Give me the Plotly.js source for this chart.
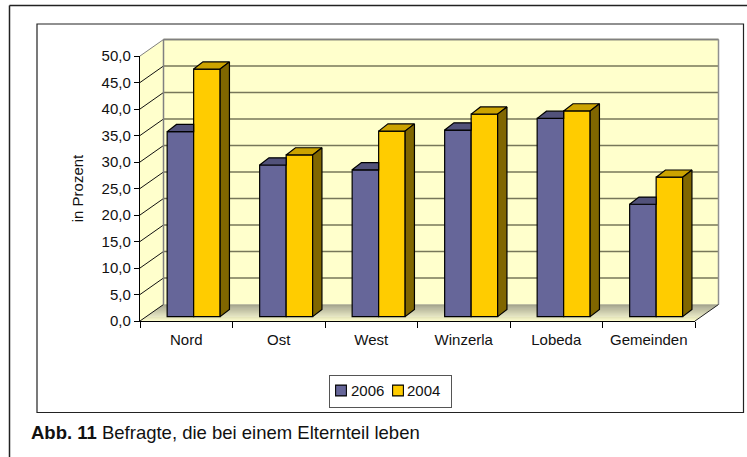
<!DOCTYPE html>
<html><head><meta charset="utf-8">
<script src="https://cdn.plot.ly/plotly-3.0.1.min.js"></script>
<style>html,body{margin:0;padding:0;background:#fff}</style></head>
<body><div id="chart" style="width:747px;height:457px"></div>
<script>
const categories = ["Nord","Ost","West","Winzerla","Lobeda","Gemeinden"];
const values2006 = [34.9,28.6,27.7,35.2,37.4,21.2];
const values2004 = [46.7,30.5,35.0,38.2,38.8,26.3];
const yTickVals = [0,5,10,15,20,25,30,35,40,45,50];
const yTickText = ["0,0","5,0","10,0","15,0","20,0","25,0","30,0","35,0","40,0","45,0","50,0"];

// plot area in page pixels
const L=140,R=695,T=56,B=321,W=747,H=457;
const pw=R-L, ph=B-T, catPx=pw/categories.length, unitPx=ph/50;
const DX=23.5, DY=16.5;             // wall depth
const barW=26.5/catPx, off=7.4/catPx, baseV=4.4/unitPx;
const bdx=9.3/catPx, bdy=7.2/unitPx; // bar depth
const px=x=>(x-L)/pw, py=y=>(B-y)/ph;
const pv=v=>v/50;
const poly=pts=>"M"+pts.map(p=>p[0]+","+p[1]).join("L")+"Z";
const shapes=[];
function paperLine(x0,y0,x1,y1,color,width){
  shapes.push({type:"line",xref:"paper",yref:"paper",layer:"below",x0:x0,y0:y0,x1:x1,y1:y1,line:{color:color,width:width}});
}
function area(pts,color){
  shapes.push({type:"path",xref:"paper",yref:"paper",layer:"below",path:poly(pts),fillcolor:color,line:{width:0}});
}
const ddx=DX/pw, ddy=DY/ph;
// outer frame and chart box
paperLine(px(9.5),py(5.5),px(747),py(5.5),"#222",1.5);
paperLine(px(9.5),py(5.5),px(9.5),py(457),"#222",1.5);
shapes.push({type:"rect",xref:"paper",yref:"paper",layer:"below",x0:px(37),x1:px(743.5),y0:py(24),y1:py(412.5),line:{color:"#222",width:1.2},fillcolor:"#fff"});
// walls
area([[ddx,ddy],[1+ddx,ddy],[1+ddx,1+ddy],[ddx,1+ddy]],"#FFFFCC");
area([[0,0],[ddx,ddy],[ddx,1+ddy],[0,1]],"#FFFFCC");
// floor gradient
const steps=17, c0=[128,128,100], c1=[255,255,208];
for(let i=0;i<steps;i++){
  const a=i/steps, b=(i+1)/steps;
  const t=Math.min(1,Math.pow(a,0.8));
  const col="rgb("+c0.map((c,k)=>Math.round(c+(c1[k]-c)*t)).join(",")+")";
  area([[ddx*(1-a),ddy*(1-a)],[1+ddx*(1-a),ddy*(1-a)],[1+ddx*(1-b),ddy*(1-b)],[ddx*(1-b),ddy*(1-b)]],col);
}
// gridlines
yTickVals.forEach(v=>{
  if(v>0) paperLine(ddx,pv(v)+ddy,1+ddx,pv(v)+ddy,"#77775A",1.3);
  paperLine(0,pv(v),ddx,pv(v)+ddy,v===50?"#808080":"#111",1);
});
paperLine(ddx,ddy,ddx,1+ddy,"#808080",1.5);
paperLine(ddx,1+ddy,1+ddx,1+ddy,"#808080",1.5);
paperLine(1+ddx,ddy,1+ddx,1+ddy,"#909090",1.5);
paperLine(1,0,1+ddx,ddy,"#222",1);

// depth faces, from the same values
function faces(vals,kind){
  const xs=[],ys=[];
  vals.forEach((v,i)=>{
    const top=baseV+v;
    const xl=i+0.5+off-barW, xm=i+0.5+off, xr=xm+barW;
    let pts;
    if(kind==="blueTop") pts=[[xl,top],[xm,top],[xm,top+bdy],[xl+bdx,top+bdy]];
    if(kind==="yellowTop") pts=[[xm,top],[xr,top],[xr+bdx,top+bdy],[xm+bdx,top+bdy]];
    if(kind==="yellowSide") pts=[[xr,baseV],[xr+bdx,baseV+bdy],[xr+bdx,top+bdy],[xr,top]];
    pts.concat([pts[0]]).forEach(p=>{xs.push(p[0]);ys.push(p[1]);});
    xs.push(null);ys.push(null);
  });
  return {x:xs,y:ys};
}
function faceTrace(vals,kind,color){
  const f=faces(vals,kind);
  return {type:"scatter",mode:"lines",x:f.x,y:f.y,xaxis:"x2",yaxis:"y",fill:"toself",fillcolor:color,
    line:{color:"#000",width:1.2},showlegend:false,hoverinfo:"skip",cliponaxis:false};
}
const barBase=categories.map(()=>baseV);
const data=[
 {type:"bar",name:"2006",x:categories,y:values2006,base:barBase,width:barW,offset:off-barW,
  marker:{color:"#666699",line:{color:"#000",width:1.2}}},
 {type:"bar",name:"2004",x:categories,y:values2004,base:barBase,width:barW,offset:off,
  marker:{color:"#FFCC00",line:{color:"#000",width:1.2}}},
 faceTrace(values2006,"blueTop","#52527A"),
 faceTrace(values2004,"yellowTop","#CCA300"),
 faceTrace(values2004,"yellowSide","#806600")
];
const font={family:"Liberation Sans, Arial, sans-serif",size:15,color:"#111"};
const layout={
 width:W,height:H,margin:{l:L,r:W-R,t:T,b:H-B,pad:0},autosize:false,
 paper_bgcolor:"#fff",plot_bgcolor:"rgba(0,0,0,0)",font:font,barmode:"overlay",
 xaxis:{type:"category",categoryorder:"array",categoryarray:categories,range:[-0.5,5.5],tickson:"boundaries",ticks:"outside",ticklen:6,tickcolor:"#000",tickwidth:1,
  ticklabelstandoff:5,showline:true,linecolor:"#000",linewidth:1.2,showgrid:false,zeroline:false,tickfont:font,fixedrange:true},
 xaxis2:{overlaying:"x",range:[0,6],visible:false,fixedrange:true},
 yaxis:{range:[0,50],tickvals:yTickVals,ticktext:yTickText,ticks:"outside",ticklen:5,tickcolor:"#000",tickwidth:1,
  showline:true,linecolor:"#000",linewidth:1.2,showgrid:false,zeroline:false,tickfont:font,fixedrange:true,
  title:{text:"in Prozent",font:font,standoff:14}},
 legend:{orientation:"h",x:px(390.5),xanchor:"center",y:py(391),yanchor:"middle",bgcolor:"#fff",bordercolor:"#555",borderwidth:1,font:font,traceorder:"normal"},
 shapes:shapes,
 annotations:[{xref:"paper",yref:"paper",x:px(28.5),y:py(432),xanchor:"left",yanchor:"middle",showarrow:false,
   text:"<b>Abb. 11</b> Befragte, die bei einem Elternteil leben",font:{family:font.family,size:18.5,color:"#111"}}]
};
Plotly.newPlot("chart",data,layout,{displayModeBar:false,staticPlot:true}).then(gd=>{
  // tighten the legend to the compact spacing of the reference
  const leg=gd.querySelector("g.legend");
  if(!leg) return;
  leg.setAttribute("transform","translate(329,374.5)");
  const bg=leg.querySelector("rect.bg");
  if(bg){bg.setAttribute("width",122);bg.setAttribute("height",32.5);}
  const place=[{tx:0,sym:12,txt:22},{tx:57,sym:12,txt:21}];
  leg.querySelectorAll("g.traces").forEach((tr,i)=>{
    tr.setAttribute("transform","translate("+place[i].tx+",16)");
    tr.querySelectorAll("g.legendpoints path").forEach(p=>p.setAttribute("transform","translate("+place[i].sym+",0) scale(0.9)"));
    const t=tr.querySelector("text.legendtext");
    if(t) t.setAttribute("x",place[i].txt);
  });
});
</script></body></html>
